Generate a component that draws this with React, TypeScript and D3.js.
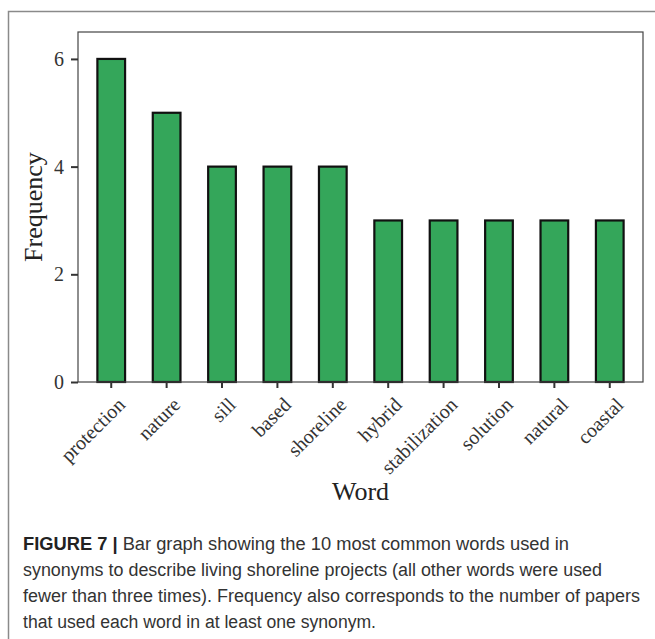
import { useEffect, useRef } from 'react'
import * as d3 from 'd3'

const words = ['protection', 'nature', 'sill', 'based', 'shoreline', 'hybrid', 'stabilization', 'solution', 'natural', 'coastal']
const frequency = [6, 5, 4, 4, 4, 3, 3, 3, 3, 3]
const yTicks = [0, 2, 4, 6]
const captionLines = [
  'Bar graph showing the 10 most common words used in',
  'synonyms to describe living shoreline projects (all other words were used',
  'fewer than three times). Frequency also corresponds to the number of papers',
  'that used each word in at least one synonym.',
]
// measured right edge of each caption line in the figure
const captionEnds = [569, 602, 640, 376]

export default function App() {
  const svgRef = useRef<SVGSVGElement>(null)

  useEffect(() => {
    if (!svgRef.current) return
    const svg = d3.select(svgRef.current)
    svg.selectAll('*').remove()

    const W = 655
    const H = 639
    const panel = { left: 78, top: 32, right: 643, bottom: 382 }
    const serif = '"Liberation Serif", "DejaVu Serif", serif'
    const sans = '"Liberation Sans", Arial, sans-serif'

    svg.attr('width', W).attr('height', H)

    svg.append('rect').attr('width', W).attr('height', H).attr('fill', '#fff')

    // outer figure frame
    svg.append('rect')
      .attr('x', 8.5).attr('y', 11.5)
      .attr('width', W).attr('height', H)
      .attr('fill', 'none')
      .attr('stroke', '#8a8a8a')
      .attr('stroke-width', 1.5)

    const x = d3.scaleBand<string>()
      .domain(words)
      .range([panel.left, panel.right])
      .paddingInner(0.5)
      .paddingOuter(0.35)

    const y = d3.scaleLinear()
      .domain([0, 6.5])
      .range([panel.bottom, panel.top])

    const data = words.map((w, i) => ({ word: w, value: frequency[i] }))

    // bars
    svg.append('g')
      .selectAll('rect')
      .data(data)
      .join('rect')
      .attr('x', d => x(d.word)!)
      .attr('y', d => y(d.value))
      .attr('width', x.bandwidth())
      .attr('height', d => y(0) - y(d.value))
      .attr('fill', '#34a65a')
      .attr('stroke', '#111')
      .attr('stroke-width', 2.2)

    // panel border
    svg.append('rect')
      .attr('x', panel.left).attr('y', panel.top)
      .attr('width', panel.right - panel.left)
      .attr('height', panel.bottom - panel.top)
      .attr('fill', 'none')
      .attr('stroke', '#444')
      .attr('stroke-width', 1.2)

    // y axis
    const yAxis = svg.append('g')
      .attr('transform', `translate(${panel.left},0)`)
      .call(d3.axisLeft(y).tickValues(yTicks).tickSize(7).tickPadding(7).tickFormat(d3.format('d')))
    yAxis.select('.domain').remove()
    yAxis.selectAll('line').attr('stroke', '#333').attr('stroke-width', 2)
    yAxis.selectAll('text')
      .attr('fill', '#333')
      .style('font-family', serif)
      .style('font-size', '20px')

    // x axis
    const xAxis = svg.append('g')
      .attr('transform', `translate(0,${panel.bottom})`)
      .call(d3.axisBottom(x).tickSize(6).tickPadding(4))
    xAxis.select('.domain').remove()
    xAxis.selectAll('line').attr('stroke', '#333').attr('stroke-width', 2)
    xAxis.selectAll('text')
      .attr('fill', '#333')
      .attr('text-anchor', 'end')
      .attr('x', 0)
      .attr('y', 0)
      .attr('dy', 0)
      .attr('transform', 'translate(15,24) rotate(-45)')
      .style('font-family', serif)
      .style('font-size', '20px')

    // axis titles
    svg.append('text')
      .attr('transform', `translate(42,${(panel.top + panel.bottom) / 2}) rotate(-90)`)
      .attr('text-anchor', 'middle')
      .attr('fill', '#222')
      .style('font-family', serif)
      .style('font-size', '26px')
      .text('Frequency')

    svg.append('text')
      .attr('x', (panel.left + panel.right) / 2)
      .attr('y', 500)
      .attr('text-anchor', 'middle')
      .attr('fill', '#222')
      .style('font-family', serif)
      .style('font-size', '26px')
      .text('Word')

    // caption
    const cap = svg.append('g').style('font-family', sans).style('font-size', '18px').attr('fill', '#333')
    captionLines.forEach((line, i) => {
      const t = cap.append('text')
        .attr('x', 23)
        .attr('y', 550 + i * 26)
        .attr('textLength', captionEnds[i] - 23)
        .attr('lengthAdjust', 'spacingAndGlyphs')
      if (i === 0) {
        t.append('tspan').attr('font-weight', 'bold').attr('fill', '#222').text('FIGURE 7 | ')
      }
      t.append('tspan').text(line)
    })
  }, [])

  return (
    <div style={{ position: 'absolute', left: 0, top: 0 }}>
      <svg ref={svgRef} style={{ display: 'block' }}></svg>
    </div>
  )
}
